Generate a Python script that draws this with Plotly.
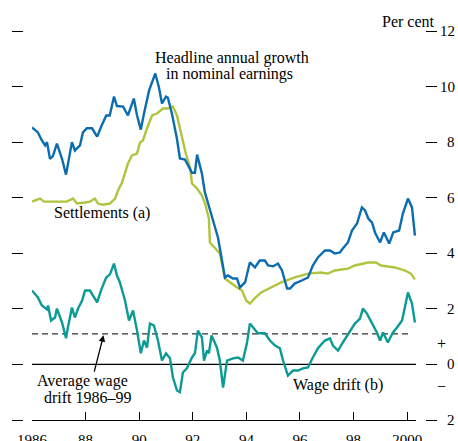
import plotly.graph_objects as go

# ---- data ----
headline_x = [1986.0, 1986.22, 1986.37, 1986.49, 1986.56, 1986.67, 1986.78, 1986.93, 1987.12, 1987.27,
              1987.34, 1987.49, 1987.6, 1987.79, 1987.9, 1988.05, 1988.24, 1988.43, 1988.6, 1988.77,
              1988.9, 1989.06, 1989.17, 1989.4, 1989.58, 1989.8, 1989.92, 1990.06, 1990.18, 1990.37,
              1990.6, 1990.74, 1990.85, 1991.0, 1991.07, 1991.22, 1991.4, 1991.52, 1991.71, 1991.97,
              1992.08, 1992.16, 1992.34, 1992.45, 1992.57, 1992.75, 1992.94, 1993.09, 1993.2, 1993.31,
              1993.5, 1993.65, 1993.76, 1993.95, 1994.13, 1994.32, 1994.5, 1994.69, 1994.81, 1995.0,
              1995.18, 1995.33, 1995.52, 1995.63, 1995.8, 1996.07, 1996.3, 1996.48, 1996.67, 1996.93,
              1997.12, 1997.3, 1997.49, 1997.6, 1997.79, 1997.94, 1998.13, 1998.31, 1998.43, 1998.55,
              1998.69, 1998.8, 1998.99, 1999.13, 1999.33, 1999.48, 1999.7, 1999.84, 2000.03, 2000.18,
              2000.29]
headline_y = [8.53, 8.35, 8.06, 7.88, 8.0, 7.4, 7.5, 7.95, 7.4, 6.83,
              7.2, 8.0, 7.7, 7.88, 8.35, 8.5, 8.5, 8.2, 8.6, 8.96,
              8.96, 9.64, 9.3, 9.28, 8.96, 9.57, 8.96, 8.45, 9.03, 9.86,
              10.47, 9.96, 9.39, 9.64, 9.6, 9.03, 8.17, 7.41, 7.37, 6.9,
              6.9, 7.55, 6.87, 6.2, 5.8, 5.18, 4.57, 3.74, 3.13, 3.2,
              3.09, 3.09, 2.77, 2.95, 3.67, 3.49, 3.74, 3.74, 3.56, 3.53,
              3.63, 3.38, 2.73, 2.73, 2.91, 3.02, 3.13, 3.56, 3.85, 4.1,
              4.1, 3.99, 4.03, 4.17, 4.39, 4.82, 5.07, 5.65, 5.54, 5.25,
              5.1, 4.75, 4.39, 4.75, 4.35, 4.75, 4.82, 5.43, 5.97, 5.65,
              4.64]

settle_x = [1986.0, 1986.3, 1986.45, 1987.3, 1987.53, 1987.68, 1987.98, 1988.16, 1988.35, 1988.46,
            1988.65, 1988.91, 1989.1, 1989.21, 1989.36, 1989.47, 1989.58, 1989.73, 1989.92, 1990.03,
            1990.14, 1990.29, 1990.48, 1990.66, 1990.89, 1991.07, 1991.26, 1991.41, 1991.6, 1991.74,
            1991.9, 1991.97, 1992.16, 1992.34, 1992.46, 1992.6, 1992.64, 1992.83, 1993.01, 1993.2,
            1993.39, 1993.65, 1993.84, 1993.99, 1994.13, 1994.3, 1994.55, 1994.92, 1995.3, 1995.81,
            1996.3, 1996.78, 1997.04, 1997.3, 1997.79, 1998.05, 1998.54, 1998.84, 1999.02, 1999.54,
            1999.92, 2000.14, 2000.29]
settle_y = [5.86, 5.97, 5.86, 5.86, 5.97, 5.79, 5.83, 5.86, 5.97, 5.79,
            5.75, 5.79, 5.97, 6.26, 6.55, 6.87, 7.23, 7.52, 7.59, 7.99,
            8.06, 8.49, 8.96, 9.03, 9.21, 9.21, 9.28, 8.96, 8.17, 7.59,
            7.09, 6.51, 6.33, 6.08, 5.79, 5.25, 4.39, 4.17, 3.99, 3.09,
            2.95, 2.77, 2.66, 2.3, 2.19, 2.37, 2.59, 2.77, 2.95, 3.13,
            3.27, 3.31, 3.27, 3.38, 3.45, 3.56, 3.67, 3.67, 3.56, 3.49,
            3.38, 3.27, 3.06]

drift_x = [1986.0, 1986.22, 1986.37, 1986.56, 1986.6, 1986.71, 1986.86, 1986.93, 1987.12, 1987.27,
           1987.34, 1987.49, 1987.6, 1987.72, 1987.87, 1987.98, 1988.16, 1988.43, 1988.6, 1988.77,
           1988.91, 1989.06, 1989.17, 1989.28, 1989.47, 1989.62, 1989.77, 1989.92, 1990.06, 1990.18,
           1990.29, 1990.4, 1990.55, 1990.7, 1990.85, 1991.0, 1991.15, 1991.26, 1991.41, 1991.52,
           1991.63, 1991.78, 1991.97, 1992.08, 1992.19, 1992.34, 1992.42, 1992.53, 1992.6, 1992.7,
           1992.9, 1993.01, 1993.13, 1993.28, 1993.5, 1993.69, 1993.87, 1994.02, 1994.13, 1994.32,
           1994.43, 1994.69, 1994.88, 1995.07, 1995.25, 1995.37, 1995.55, 1995.74, 1995.93, 1996.11,
           1996.3, 1996.48, 1996.67, 1996.93, 1997.12, 1997.23, 1997.42, 1997.6, 1997.87, 1998.05,
           1998.24, 1998.35, 1998.5, 1998.69, 1998.87, 1998.99, 1999.1, 1999.28, 1999.47, 1999.62,
           1999.81, 2000.03, 2000.18, 2000.29]
drift_y = [2.66, 2.41, 2.12, 1.98, 2.12, 1.58, 1.69, 2.01, 1.51, 0.94,
           1.33, 2.05, 1.69, 2.01, 2.3, 2.66, 2.66, 2.23, 2.73, 3.13,
           3.24, 3.63, 3.2, 2.95, 2.3, 1.58, 1.94, 1.22, 0.4, 0.86,
           0.61, 1.47, 1.4, 0.86, 0.14, 0.4, 0.22, -0.47, -0.94, -1.0,
           -0.29, -0.14, 0.25, 0.4, 1.22, 0.97, 0.14, 0.5, 0.4, 1.04,
           0.61, 0.14, -0.83, 0.14, 0.22, 0.25, 0.14, 0.76, 1.47, 1.22,
           1.12, 1.12, 0.86, 0.68, 0.58, 0.14, -0.4, -0.22, -0.22, -0.14,
           -0.11, 0.25, 0.58, 0.86, 0.94, 0.68, 0.5, 0.79, 1.22, 1.47,
           1.65, 2.01, 1.83, 1.47, 1.15, 0.86, 1.15, 0.79, 1.15, 1.33,
           1.58, 2.59, 2.19, 1.51]

avg_drift = 1.1
avg_span = [1986.0, 2000.15]
x_tick_vals = [1986, 1988, 1990, 1992, 1994, 1996, 1998, 2000]
x_tick_text = ["1986", "88", "90", "92", "94", "96", "98", "2000"]
y_tick_vals = [-2, 0, 2, 4, 6, 8, 10, 12]
y_tick_text = ["2", "0", "2", "4", "6", "8", "10", "12"]

# ---- styling ----
W, H = 458, 441
def px(x):
    return x / W
def py(y):
    return 1 - y / H

FONT = "Liberation Serif"
BLUE = "#0b6db0"
GREEN = "#afc53f"
TEAL = "#0c9a95"
X_RANGE = [1986, 2000.33]
Y_RANGE = [-2, 12]

fig = go.Figure()
fig.add_trace(go.Scatter(x=avg_span, y=[avg_drift, avg_drift], mode="lines",
                         line=dict(color="#333333", width=1.3, dash="6px,4px"),
                         hoverinfo="skip"))
fig.add_trace(go.Scatter(x=X_RANGE, y=[0, 0], mode="lines",
                         line=dict(color="black", width=1.3), hoverinfo="skip"))
fig.add_trace(go.Scatter(x=settle_x, y=settle_y, mode="lines",
                         line=dict(color=GREEN, width=2.4), name="Settlements (a)"))
fig.add_trace(go.Scatter(x=headline_x, y=headline_y, mode="lines",
                         line=dict(color=BLUE, width=2.4), name="Headline"))
fig.add_trace(go.Scatter(x=drift_x, y=drift_y, mode="lines",
                         line=dict(color=TEAL, width=2.4), name="Wage drift (b)"))
fig.add_trace(go.Scatter(x=[], y=[], yaxis="y2", showlegend=False))
fig.add_trace(go.Scatter(x=[], y=[], yaxis="y3", showlegend=False))

tf = dict(family=FONT, size=15, color="black")
fig.update_layout(
    width=W, height=H, template="none", showlegend=False,
    margin=dict(l=0, r=0, t=0, b=0),
    paper_bgcolor="white", plot_bgcolor="white",
    xaxis=dict(domain=[px(32), px(416)], range=X_RANGE, showgrid=False, zeroline=False,
               showline=True, linecolor="black", linewidth=1.2,
               ticks="inside", ticklen=8, tickwidth=1.2, tickcolor="black",
               tickvals=x_tick_vals, ticktext=x_tick_text, tickfont=tf,
               ticklabelstandoff=6, automargin=False),
    yaxis=dict(domain=[py(420), py(31)], range=Y_RANGE, showgrid=False, zeroline=False,
               showline=False, showticklabels=False, ticks="", automargin=False),
    yaxis2=dict(overlaying="y", anchor="free", position=px(23), side="left", range=Y_RANGE,
                showgrid=False, zeroline=False, showline=False, showticklabels=False,
                ticks="outside", ticklen=11, tickwidth=1.3, tickcolor="black",
                tickvals=y_tick_vals, automargin=False),
    yaxis3=dict(overlaying="y", anchor="free", position=px(425), side="right", range=Y_RANGE,
                showgrid=False, zeroline=False, showline=False, showticklabels=False,
                ticks="outside", ticklen=11, tickwidth=1.3, tickcolor="black",
                tickvals=y_tick_vals, automargin=False),
)

# right-hand tick labels, right-aligned like the reference
for v, t in zip(y_tick_vals, y_tick_text):
    fig.add_annotation(text=t, x=px(457), y=v, xref="paper", yref="y", showarrow=False,
                       font=tf, xanchor="right", yanchor="middle")

af = dict(family=FONT, size=16, color="black")
def note(text, x, y, **kw):
    fig.add_annotation(text=text, x=x, y=y, xref="x", yref="y", showarrow=False,
                       font=af, xanchor="center", yanchor="middle", **kw)

note("Headline annual growth", 1993.46, 11.03)
note("in nominal earnings", 1993.37, 10.47)
note("Settlements (a)", 1988.61, 5.45)
note("Average wage", 1987.9, -0.6)
note("drift 1986\u201399", 1988.09, -1.2)
note("Wage drift (b)", 1997.42, -0.74)

fig.add_annotation(x=1988.67, y=avg_drift - 0.05, ax=1988.31, ay=-0.31, xref="x", yref="y",
                   axref="x", ayref="y", text="", showarrow=True, arrowhead=2,
                   arrowsize=1, arrowwidth=1.3, arrowcolor="black")

fig.add_annotation(text="Per cent", x=px(437), y=py(21), xref="paper", yref="paper",
                   showarrow=False, font=af, xanchor="right", yanchor="middle")
fig.add_annotation(text="+", x=px(441), y=py(343), xref="paper", yref="paper",
                   showarrow=False, font=af, xanchor="center", yanchor="middle")
fig.add_annotation(text="\u2212", x=px(441), y=py(386), xref="paper", yref="paper",
                   showarrow=False, font=af, xanchor="center", yanchor="middle")

fig.write_html("out.html",
               config={"displayModeBar": False},
               post_script="document.body.style.margin='0';"
                           "document.body.style.overflow='hidden';")
